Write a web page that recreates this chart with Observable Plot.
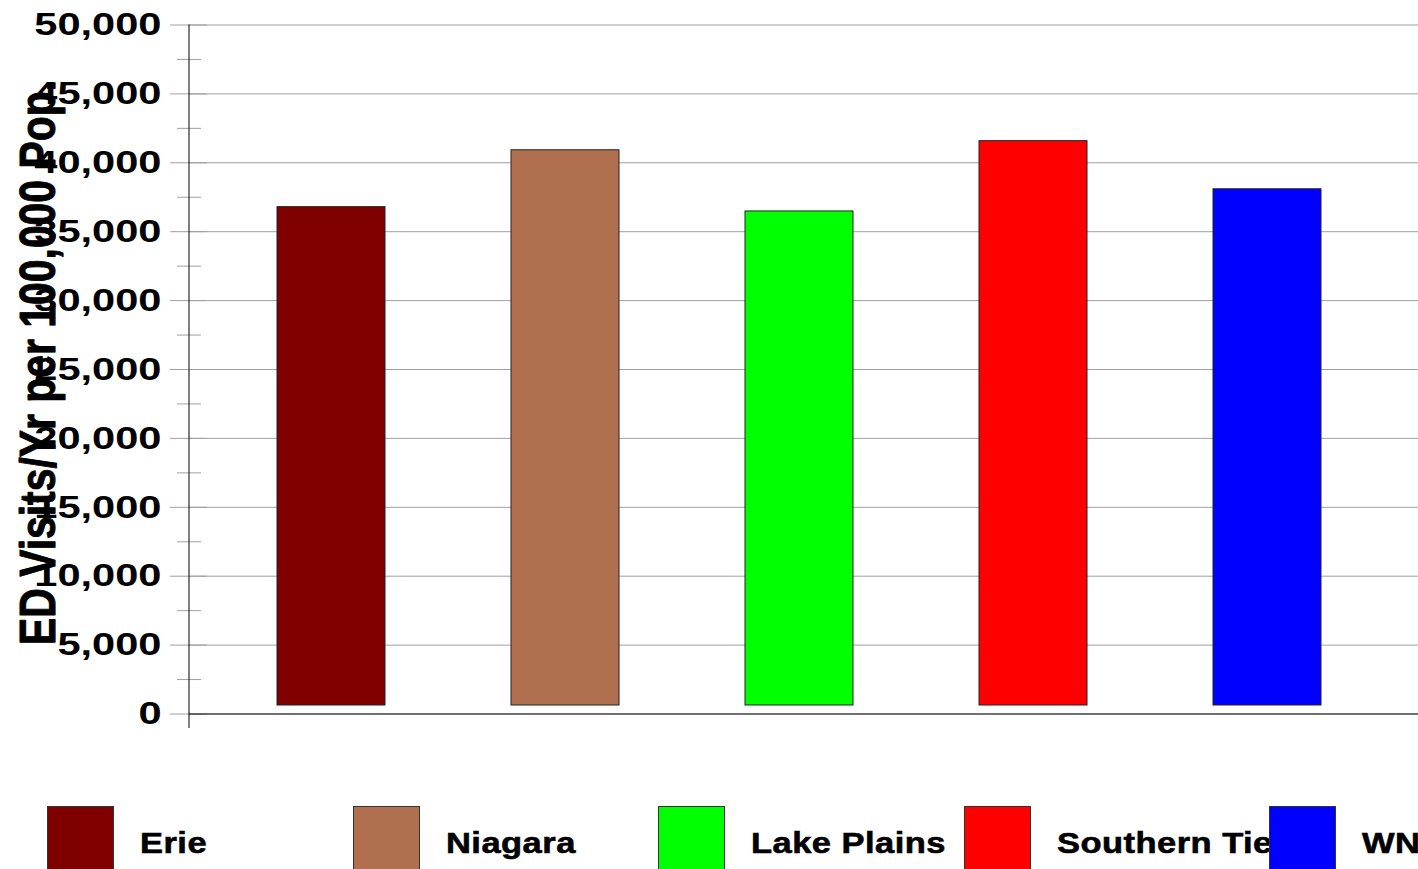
<!DOCTYPE html>
<html><head><meta charset="utf-8">
<script src="https://cdn.jsdelivr.net/npm/d3@7"></script>
<script src="https://cdn.jsdelivr.net/npm/@observablehq/plot@0.6"></script>
<style>
html,body{margin:0;padding:0;background:#fff;width:1418px;height:869px;overflow:hidden;}
#chart svg{display:block;overflow:visible;}
#legend{position:relative;height:63px;margin-top:46px;width:1418px;overflow:hidden;}
.item{position:absolute;top:0;height:80px;}
.sw{position:absolute;left:0;top:0;width:67px;height:70px;border:1px solid #333;box-sizing:border-box;}
.lb{position:absolute;left:93px;top:22px;font:bold 30px "Liberation Sans",Arial,sans-serif;letter-spacing:0.4px;white-space:nowrap;line-height:30px;color:#000;-webkit-text-stroke:0.6px #000;transform:scaleX(1.15);transform-origin:0 0;}
</style>
</head><body>
<div id="chart"></div>
<div id="legend"></div>
<script>
const regions = ["Erie", "Niagara", "Lake Plains", "Southern Tier", "WNY"];
const visits = [36780, 40910, 36470, 41570, 38080];
const colors = ["#800000", "#b07050", "#00ff00", "#ff0000", "#0000ff"];
const majorTicks = [0, 5000, 10000, 15000, 20000, 25000, 30000, 35000, 40000, 45000, 50000];
const minorTicks = [2500, 7500, 12500, 17500, 22500, 27500, 32500, 37500, 42500, 47500];
const yLabel = "ED Visits/Yr per 100,000 Pop.";

const data = regions.map((r, i) => ({region: r, value: visits[i]}));

const W = 1418, ML = 189;
const chart = Plot.plot({
  width: W, height: 760,
  marginLeft: ML, marginRight: 0, marginTop: 24.5, marginBottom: 46.5,
  style: {fontFamily: "'Liberation Sans', Arial, sans-serif", background: "white", overflow: "visible"},
  x: {domain: regions, axis: null, paddingInner: 0.538, paddingOuter: 0.395, align: 0.476},
  y: {domain: [0, 50000], axis: null},
  color: {domain: regions, range: colors},
  marks: [
    Plot.ruleY(majorTicks.filter(d => d > 0), {stroke: "#a0a0a0", strokeWidth: 1}),
    Plot.ruleY(minorTicks, {stroke: "#a0a0a0", insetLeft: -12, insetRight: W - ML - 12}),
    Plot.ruleY(majorTicks, {stroke: "#a0a0a0", insetLeft: -19, insetRight: W - ML - 18}),
    Plot.barY(data, {x: "region", y: "value", fill: "region", stroke: "#222", strokeWidth: 1, insetBottom: 8.5}),
    Plot.ruleY([0], {stroke: "#404040", strokeWidth: 1.5}),
    Plot.axisY(majorTicks, {label: null, tickSize: 0, tickPadding: 28, tickFormat: d3.format(","), fontSize: 32, fontWeight: "bold", fill: "#000", stroke: "#000", strokeWidth: 0.9}),
    Plot.text([yLabel], {text: d => d, frameAnchor: "left", rotate: -90, dx: -151, dy: -7, fontSize: 50, fontWeight: "bold", fill: "#000", stroke: "#000", strokeWidth: 1, textAnchor: "middle"})
  ]
});
document.getElementById("chart").appendChild(chart);

const svg = d3.select(chart);
const y = chart.scale("y");
// vertical axis line
svg.append("line")
  .attr("x1", ML).attr("x2", ML)
  .attr("y1", y.apply(50000)).attr("y2", y.apply(0) + 14.5)
  .attr("stroke", "#000").attr("stroke-width", 1);
// widen tick label glyphs like the reference
svg.selectAll("text").filter(function() { return /^\d{1,2}(,\d{3})?$|^0$/.test(this.textContent); })
  .each(function() {
    const len = this.getComputedTextLength();
    d3.select(this).attr("textLength", len * 1.3).attr("lengthAdjust", "spacingAndGlyphs");
  });
// condensed axis title
svg.selectAll("text").filter(function() { return this.textContent === yLabel; })
  .attr("textLength", 565).attr("lengthAdjust", "spacingAndGlyphs");

// legend
const legend = d3.select("#legend");
regions.forEach((r, i) => {
  const item = legend.append("div").attr("class", "item").style("left", (47 + i * 305.5) + "px");
  item.append("div").attr("class", "sw").style("background", colors[i]);
  item.append("div").attr("class", "lb").text(r);
});
</script>
</body></html>
